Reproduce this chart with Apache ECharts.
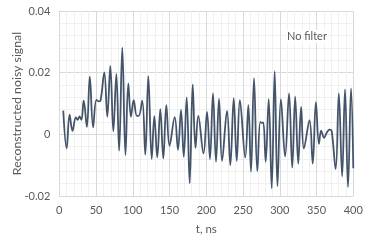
<!DOCTYPE html>
<html>
<head>
<meta charset="utf-8">
<script src="https://cdn.jsdelivr.net/npm/echarts@6/dist/echarts.min.js"></script>
<style>
html,body{margin:0;padding:0;background:#fff;}
#chart{width:374px;height:244px;}
</style>
</head>
<body>
<div id="chart"></div>
<script>
// time (ns) of each read extremum
var tNs = [5.4,10,14,18,22.5,25,27.5,30,33.2,37.5,41.5,46,50.5,53.5,56,61.2,65.3,69.4,73.5,77.6,81.4,85.7,90,93.9,97.5,101.2,105.5,108,112.8,117,121.1,125.7,129.3,133.3,137.4,141.5,145.6,150,157,161.5,165.6,169.3,173.3,177.4,181.5,185.3,189.1,196.2,201,205,209.1,213.2,217.3,221.4,228.2,232.7,237.3,241.4,245.7,253,257.2,260.8,264.9,269.4,273.5,275.5,277.5,280.8,284.9,289,293,296.8,301.5,307.2,312.6,316.9,320.9,325.1,329,332.8,340.4,344.8,349.1,353.3,356.3,360.3,364,367.8,370.5,376,380.3,384.8,388.7,392.8,396.9,400];
// reconstructed noisy signal values
var signal = [0.0077,-0.0045,0.0064,0.0011,0.0055,0.0047,0.0058,0.0047,0.0109,0.0024,0.0187,0.0023,0.0112,0.0107,0.0109,0.0201,0.0057,0.0222,0.0010,0.0196,-0.0053,0.0281,-0.0067,0.0165,0.0057,0.0111,0.0060,0.0060,0.0109,-0.0066,0.0189,-0.0080,0.0059,-0.0075,0.0082,-0.0078,0.0095,-0.0037,0.0056,-0.0050,0.0079,-0.0073,0.0120,-0.0159,0.0162,-0.0044,0.0060,-0.0062,0.0073,-0.0080,0.0133,-0.0089,0.0115,-0.0086,0.0076,-0.0100,0.0117,-0.0086,0.0111,-0.0075,0.0095,-0.0121,0.0182,-0.0119,0.0040,0.0037,0.0039,-0.0089,0.0114,-0.0175,0.0205,-0.0168,0.0114,-0.0072,0.0133,-0.0108,0.0122,-0.0095,0.0089,-0.0046,0.0046,-0.0095,0.0104,-0.0031,0.0012,-0.0011,0.0006,0.0015,0.0012,-0.0113,0.0133,-0.0136,0.0146,-0.0171,0.0149,-0.0110];
var xTicks = [0,50,100,150,200,250,300,350,400];
var yTicks = [-0.02,0,0.02,0.04];
var yTickLabels = ['-0.02','0','0.02','0.04'];
var xTitle = 't, ns';
var yTitle = 'Reconstructed noisy signal';
var note = 'No filter';

var pts = tNs.map(function(t,i){return [t, signal[i]];});
var font = 'Lato, "Open Sans", sans-serif';
var txt = '#595959';

var chart = echarts.init(document.getElementById('chart'), null, {renderer:'canvas'});
chart.setOption({
  animation:false,
  backgroundColor:'#ffffff',
  grid:{left:59.3, right:20.7, top:11, bottom:48, containLabel:false, outerBoundsMode:'none'},
  xAxis:{
    type:'value', min:xTicks[0], max:xTicks[xTicks.length-1], interval:50,
    name:xTitle, nameLocation:'middle', nameGap:27, nameMoveOverlap:false,
    nameTextStyle:{color:txt, fontSize:11.5, fontFamily:font},
    axisLine:{show:true, lineStyle:{color:'#d9d9d9'}},
    axisTick:{show:false},
    axisLabel:{color:txt, fontSize:11, fontFamily:font, margin:9},
    splitLine:{show:true, lineStyle:{color:'#d9d9d9', width:1}},
    minorTick:{show:false, splitNumber:5},
    minorSplitLine:{show:true, lineStyle:{color:'#f0f0f0', width:1}}
  },
  yAxis:{
    type:'value', min:yTicks[0], max:yTicks[yTicks.length-1], interval:0.02,
    name:yTitle, nameLocation:'middle', nameGap:36, nameRotate:90, nameMoveOverlap:false,
    nameTextStyle:{color:txt, fontSize:12.3, fontFamily:font},
    axisLine:{show:true, lineStyle:{color:'#d9d9d9'}},
    axisTick:{show:false},
    axisLabel:{color:txt, fontSize:11, fontFamily:font, margin:9,
      formatter:function(v){
        var idx = yTicks.findIndex(function(y){return Math.abs(y-v)<1e-9;});
        return idx>=0 ? yTickLabels[idx] : '';
      }},
    splitLine:{show:true, lineStyle:{color:'#d9d9d9', width:1}},
    minorTick:{show:false, splitNumber:5},
    minorSplitLine:{show:true, lineStyle:{color:'#f0f0f0', width:1}}
  },
  graphic:[{
    type:'text', left:286, top:30, z:10,
    style:{text:note, fill:txt, font:'11px ' + font, backgroundColor:'#ffffff', padding:[1,1,1,1]}
  }],
  series:[{
    type:'line', data:pts, showSymbol:false, smooth:0.4,
    lineStyle:{color:'#44546A', width:1.8},
    itemStyle:{color:'#44546A'}
  }]
});
</script>
</body>
</html>
